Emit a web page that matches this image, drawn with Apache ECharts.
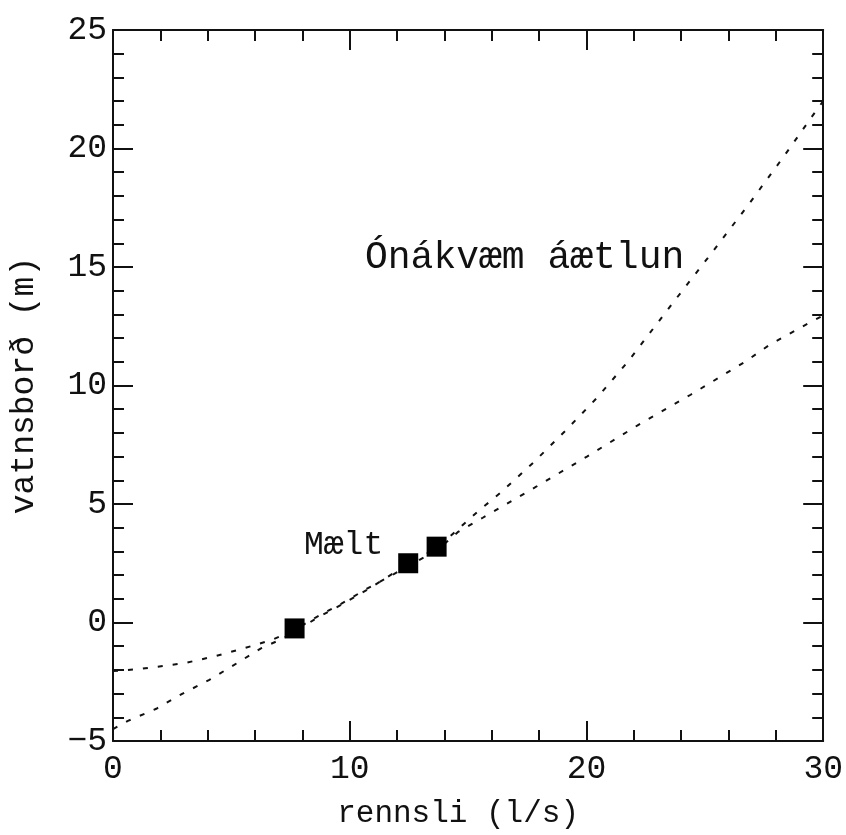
<!DOCTYPE html>
<html>
<head>
<meta charset="utf-8">
<script src="https://cdn.jsdelivr.net/npm/echarts@6/dist/echarts.min.js"></script>
<style>
html,body{margin:0;padding:0;background:#fff;}
#c{width:846px;height:835px;}
</style>
</head>
<body>
<div id="c"></div>
<script>
// Curve 1 (steeper fit)
var fitAx = [0, 0.63, 1.83, 2.94, 4.07, 5.1, 6.25, 6.9, 7.7, 8.54, 9.65, 10.77, 11.88, 12.5, 13.7, 15.43, 16.41, 17.79, 19.17, 20.49, 21.76, 23.77, 25.35, 26.88, 28.39, 29.74, 30];
var fitAy = [-4.5, -4.15, -3.64, -3.0, -2.42, -1.8, -1.09, -0.8, -0.4, 0.15, 0.75, 1.4, 2.1, 2.5, 3.15, 4.7, 5.51, 6.78, 8.15, 9.53, 11.02, 13.64, 15.67, 17.68, 19.74, 21.65, 22.0];
// Curve 2 (flatter fit)
var fitBx = [0, 1.05, 1.76, 3.0, 4.28, 5.53, 6.7, 7.7, 8.54, 9.65, 10.77, 11.88, 12.5, 13.7, 14.56, 15.62, 17.84, 20.02, 22.18, 24.4, 26.7, 27.74, 29.4, 30];
var fitBy = [-2.05, -1.97, -1.88, -1.72, -1.43, -1.09, -0.74, -0.3, 0.2, 0.8, 1.45, 2.05, 2.4, 3.05, 3.81, 4.42, 5.71, 7.0, 8.33, 9.61, 11.0, 11.72, 12.64, 12.95];
// Measured points
var measX = [7.67, 12.47, 13.67];
var measY = [-0.25, 2.5, 3.2];

var xTicks = [0, 10, 20, 30];
var yTicks = [-5, 0, 5, 10, 15, 20, 25];

var xTitle = 'rennsli (l/s)';
var yTitle = 'vatnsborð (m)';
var measLabel = 'Mælt';
var noteLabel = 'Ónákvæm áætlun';

function pairs(xs, ys){ return xs.map(function(x,i){ return [x, ys[i]]; }); }

var FONT = '"Liberation Mono", monospace';
var INK = '#111';

var chart = echarts.init(document.getElementById('c'), null, {renderer:'canvas'});

function fmt(v){ return String(v).replace('-', '\u2212'); }

function axisCommon(showLabel, isX){
  return {
    axisLine: {show: true, onZero: false, lineStyle: {color: INK, width: 2}},
    axisTick: {show: true, inside: true, length: 20, lineStyle: {color: INK, width: 2}},
    minorTick: {show: true, splitNumber: 5, length: 11, lineStyle: {color: INK, width: 2}},
    splitLine: {show: false},
    axisLabel: {show: showLabel, color: INK, fontFamily: FONT, fontSize: 33, formatter: fmt,
                margin: isX ? 12 : 6, showMinLabel: true, showMaxLabel: true}
  };
}

var option = {
  animation: false,
  backgroundColor: '#fff',
  grid: {left: 110, right: 20, top: 30, bottom: 94, containLabel: false},
  xAxis: [
    Object.assign({type: 'value', min: xTicks[0], max: xTicks[xTicks.length-1], interval: 10, position: 'bottom',
      name: xTitle, nameLocation: 'middle', nameGap: 57,
      nameTextStyle: {color: INK, fontFamily: FONT, fontSize: 31, padding: [0, 20, 0, 0]}}, axisCommon(true, true)),
    Object.assign({type: 'value', min: xTicks[0], max: xTicks[xTicks.length-1], interval: 10, position: 'top'}, axisCommon(false, true))
  ],
  yAxis: [
    Object.assign({type: 'value', min: yTicks[0], max: yTicks[yTicks.length-1], interval: 5, position: 'left',
      name: yTitle, nameLocation: 'middle', nameGap: 72, nameRotate: 90,
      nameTextStyle: {color: INK, fontFamily: FONT, fontSize: 33}}, axisCommon(true, false)),
    Object.assign({type: 'value', min: yTicks[0], max: yTicks[yTicks.length-1], interval: 5, position: 'right'}, axisCommon(false, false))
  ],
  series: [
    {type: 'line', data: pairs(fitAx, fitAy), showSymbol: false, smooth: false, z: 2,
     lineStyle: {color: INK, width: 2, type: [5, 10]}},
    {type: 'line', data: pairs(fitBx, fitBy), showSymbol: false, smooth: false, z: 2,
     lineStyle: {color: INK, width: 2, type: [5, 10]}},
    {type: 'scatter', data: pairs(measX, measY), symbol: 'rect', symbolSize: 20, z: 5,
     itemStyle: {color: '#000', opacity: 1}}
  ],
  graphic: [
    {type: 'text', left: 365, top: 239, style: {text: noteLabel, fill: INK, font: '38px ' + FONT}},
    {type: 'text', left: 304, top: 529, style: {text: measLabel, fill: INK, font: '33px ' + FONT}}
  ]
};
chart.setOption(option);
</script>
</body>
</html>
